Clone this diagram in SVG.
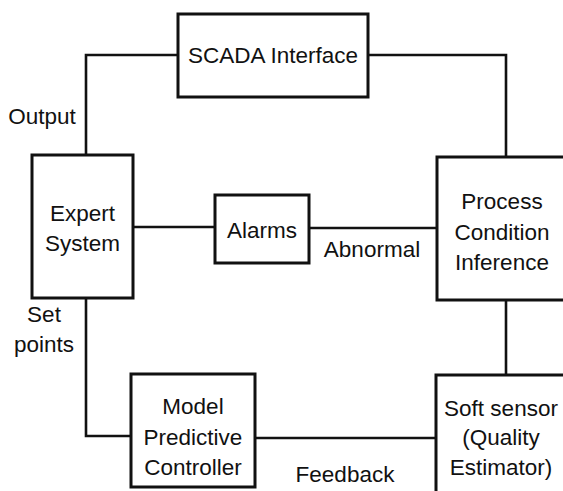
<svg xmlns="http://www.w3.org/2000/svg" width="563" height="491" viewBox="0 0 563 491">
<style>
.box{fill:#fff;stroke:#111;stroke-width:3}
.ln{fill:none;stroke:#111;stroke-width:2.6}
text{font-family:"Liberation Sans",Arial,sans-serif;font-size:22.5px;fill:#111;text-anchor:middle}
</style>
<rect width="563" height="491" fill="#fff"/>
<g id="connectors">
<path class="ln" d="M178,55 H86 V155"/>
<path class="ln" d="M368,55 H506 V157"/>
<path class="ln" d="M133,227 H215"/>
<path class="ln" d="M309,228 H437"/>
<path class="ln" d="M506,300 V375"/>
<path class="ln" d="M86,298 V436 H131"/>
<path class="ln" d="M255,438 H436"/>
<text x="42" y="124">Output</text>
<text x="372" y="257">Abnormal</text>
<text x="44" y="322">Set</text>
<text x="44" y="352">points</text>
<text x="345" y="482">Feedback</text>
</g>
<g id="scada">
<rect class="box" x="178" y="14" width="190" height="83"/>
<text x="273" y="63">SCADA  Interface</text>
</g>
<g id="expert">
<rect class="box" x="32" y="155" width="101" height="143"/>
<text x="82.5" y="221">Expert</text>
<text x="82.5" y="251">System</text>
</g>
<g id="alarms">
<rect class="box" x="215" y="195" width="94" height="68"/>
<text x="262" y="238">Alarms</text>
</g>
<g id="pci">
<rect class="box" x="437" y="157" width="140" height="143"/>
<text x="502" y="209">Process</text>
<text x="502" y="240">Condition</text>
<text x="502" y="270">Inference</text>
</g>
<g id="mpc">
<rect class="box" x="131" y="374" width="124" height="113"/>
<text x="193" y="414">Model</text>
<text x="193" y="445">Predictive</text>
<text x="193" y="475">Controller</text>
</g>
<g id="softsensor">
<rect class="box" x="436" y="375" width="140" height="130"/>
<text x="501" y="416">Soft  sensor</text>
<text x="501" y="445">(Quality</text>
<text x="501" y="475">Estimator)</text>
</g>
</svg>
